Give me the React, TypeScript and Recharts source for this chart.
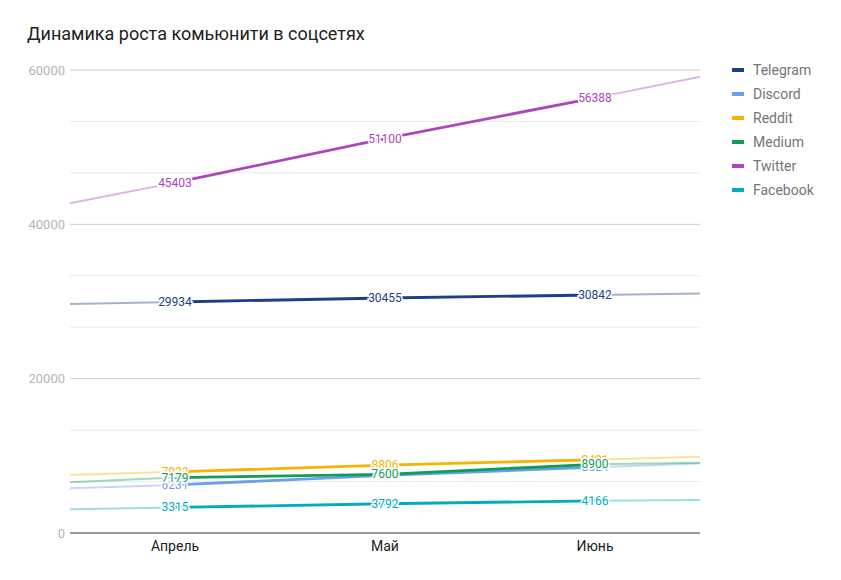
import { LineChart, Line, XAxis, YAxis, ReferenceLine, LabelList } from 'recharts';

const months = ['Апрель', 'Май', 'Июнь'];

// values per month
const telegram = [29934, 30455, 30842];
const discord = [6231, 7468, 8524];
const reddit = [7922, 8806, 9491];
const medium = [7179, 7600, 8900];
const twitter = [45403, 51100, 56388];
const facebook = [3315, 3792, 4166];

// faded ends at the left and right edge of the plot
const telegramEdges = [29680, 31040];
const discordEdges = [5790, 9000];
const redditEdges = [7520, 9890];
const mediumEdges = [6570, 9110];
const twitterEdges = [42725, 59130];
const facebookEdges = [3070, 4280];

const majorTicks = [0, 20000, 40000, 60000];
const minorTicks = [6667, 13333, 26667, 33333, 46667, 53333];

const series = [
  { key: 'telegram', name: 'Telegram', color: '#1c3f87', values: telegram, edges: telegramEdges },
  { key: 'discord', name: 'Discord', color: '#6d9eeb', values: discord, edges: discordEdges },
  { key: 'reddit', name: 'Reddit', color: '#f4b400', values: reddit, edges: redditEdges },
  { key: 'medium', name: 'Medium', color: '#0f9d58', values: medium, edges: mediumEdges },
  { key: 'twitter', name: 'Twitter', color: '#ab47bc', values: twitter, edges: twitterEdges },
  { key: 'facebook', name: 'Facebook', color: '#00acc1', values: facebook, edges: facebookEdges },
];

const xs = [-0.5, 0, 1, 2, 2.5];

const data = xs.map((x, i) => {
  const row: any = { x };
  series.forEach((s) => {
    const v = i >= 1 && i <= 3 ? s.values[i - 1] : null;
    row[s.key] = v;
    if (i === 0) row[s.key + '_edge'] = s.edges[0];
    else if (i === 4) row[s.key + '_edge'] = s.edges[1];
    else if (i === 2) row[s.key + '_edge'] = null;
    else row[s.key + '_edge'] = v;
  });
  return row;
});

const font = 'Roboto, "Noto Sans", sans-serif';

const makeLabel = (color: string) => (props: any) => {
  const { x, y, value } = props;
  if (value == null) return null;
  return (
    <text
      x={x}
      y={y}
      dy={4}
      textAnchor="middle"
      fill={color}
      stroke="#ffffff"
      strokeWidth={3}
      paintOrder="stroke"
      fontSize={12}
      fontFamily={font}
    >
      {value}
    </text>
  );
};

export default function App() {
  return (
    <div style={{ position: 'absolute', left: 0, top: 0, width: 841, height: 580, background: '#fff', fontFamily: font }}>
      <div style={{ position: 'absolute', left: 27, top: 24, fontSize: 18, lineHeight: '20px', color: '#212121' }}>
        Динамика роста комьюнити в соцсетях
      </div>
      <LineChart width={841} height={580} data={data} margin={{ top: 70, right: 141, bottom: 0, left: 0 }}>
        {minorTicks.map((t) => (
          <ReferenceLine key={'m' + t} y={t} stroke="#ebebeb" strokeWidth={1} />
        ))}
        {majorTicks.slice(1).map((t) => (
          <ReferenceLine key={'M' + t} y={t} stroke="#cccccc" strokeWidth={1} />
        ))}
        <XAxis
          type="number"
          dataKey="x"
          domain={[-0.5, 2.5]}
          ticks={[0, 1, 2]}
          tickFormatter={(v) => months[v]}
          height={47}
          tickLine={false}
          axisLine={{ stroke: '#333333' }}
          tick={{ fill: '#222222', fontSize: 14, fontFamily: font }}
        />
        <YAxis
          domain={[0, 60000]}
          ticks={majorTicks}
          width={70}
          axisLine={false}
          tickLine={false}
          tickSize={0}
          tickMargin={5}
          tick={{ fill: '#b5b5b5', fontSize: 13, fontFamily: font }}
        />
        {series.map((s) => (
          <Line
            key={s.key + '_edge'}
            dataKey={s.key + '_edge'}
            stroke={s.color}
            strokeOpacity={0.4}
            strokeWidth={2}
            dot={false}
            activeDot={false}
            connectNulls={false}
            isAnimationActive={false}
          />
        ))}
        {series.map((s) => (
          <Line
            key={s.key}
            dataKey={s.key}
            name={s.name}
            stroke={s.color}
            strokeWidth={2.8}
            dot={false}
            activeDot={false}
            isAnimationActive={false}
          >
            <LabelList dataKey={s.key} content={makeLabel(s.color)} />
          </Line>
        ))}
      </LineChart>
      <div style={{ position: 'absolute', left: 732, top: 58 }}>
        {series.map((s) => (
          <div key={s.key} style={{ display: 'flex', alignItems: 'center', height: 24 }}>
            <span style={{ width: 12, height: 4, background: s.color, marginRight: 9 }} />
            <span style={{ fontSize: 14, color: '#757575' }}>{s.name}</span>
          </div>
        ))}
      </div>
    </div>
  );
}
